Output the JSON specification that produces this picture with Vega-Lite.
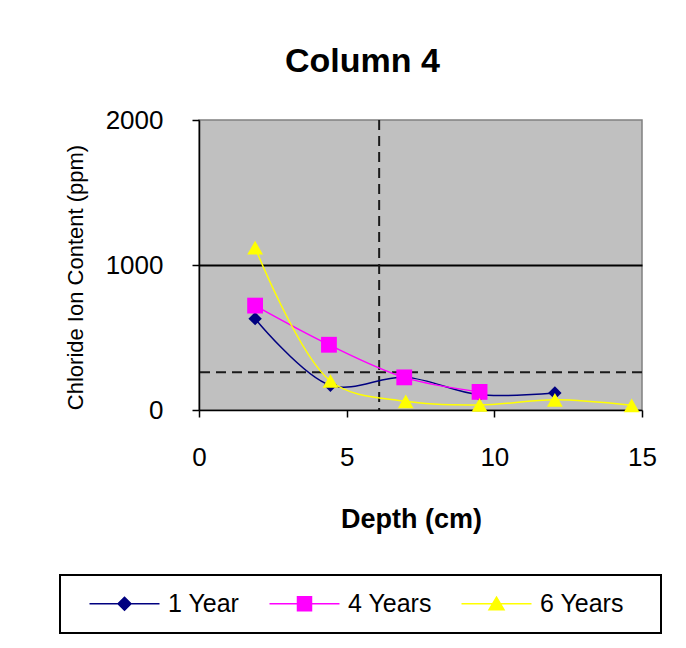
{
  "$schema": "https://vega.github.io/schema/vega-lite/v6.json",
  "width": 443,
  "height": 290,
  "autosize": {"type": "none"},
  "padding": {"left": 199, "top": 120, "right": 44, "bottom": 238},
  "background": "white",
  "config": {
    "font": "Liberation Sans",
    "view": {"fill": "#C0C0C0", "stroke": "#808080", "strokeWidth": 1.5}
  },
  "title": {
    "text": "Column 4",
    "fontSize": 34,
    "fontWeight": "bold",
    "color": "black",
    "anchor": "middle",
    "baseline": "alphabetic",
    "dx": -58,
    "offset": 1
  },
  "data": {
    "values": [
      {"series": "1 Year", "depth": 1.9, "chloride": 630},
      {"series": "1 Year", "depth": 4.45, "chloride": 170},
      {"series": "1 Year", "depth": 7.0, "chloride": 225},
      {"series": "1 Year", "depth": 9.5, "chloride": 105},
      {"series": "1 Year", "depth": 12.05, "chloride": 118},
      {"series": "4 Years", "depth": 1.9, "chloride": 720},
      {"series": "4 Years", "depth": 4.4, "chloride": 450},
      {"series": "4 Years", "depth": 6.95, "chloride": 225},
      {"series": "4 Years", "depth": 9.5, "chloride": 125},
      {"series": "6 Years", "depth": 1.9, "chloride": 1120},
      {"series": "6 Years", "depth": 4.45, "chloride": 200},
      {"series": "6 Years", "depth": 7.0, "chloride": 60},
      {"series": "6 Years", "depth": 9.5, "chloride": 35},
      {"series": "6 Years", "depth": 12.05, "chloride": 70},
      {"series": "6 Years", "depth": 14.65, "chloride": 32}
    ]
  },
  "layer": [
    {
      "data": {"values": [{}]},
      "mark": {"type": "rule", "strokeDash": [10, 6], "strokeWidth": 2, "color": "#1a1a1a"},
      "encoding": {"x": {"datum": 6.1, "type": "quantitative"}}
    },
    {
      "data": {"values": [{}]},
      "mark": {"type": "rule", "strokeDash": [10, 6], "strokeWidth": 2, "color": "#1a1a1a"},
      "encoding": {"y": {"datum": 260, "type": "quantitative"}}
    },
    {
      "mark": {"type": "line", "interpolate": "catmull-rom", "strokeWidth": 1.5},
      "encoding": {
        "x": {
          "field": "depth",
          "type": "quantitative",
          "scale": {"domain": [0, 15], "nice": false, "zero": false},
          "axis": {
            "title": "Depth (cm)",
            "values": [0, 5, 10, 15],
            "grid": false,
            "domainColor": "black",
            "domainWidth": 1.5,
            "tickColor": "black",
            "tickWidth": 1.5,
            "tickSize": 7,
            "labelFontSize": 26,
            "labelColor": "black",
            "labelPadding": 27,
            "labelFlush": false,
            "titleFontSize": 27,
            "titleFontWeight": "bold",
            "titleColor": "black",
            "titleX": 212,
            "titleY": 117,
            "titleAlign": "center",
            "titleBaseline": "alphabetic"
          }
        },
        "y": {
          "field": "chloride",
          "type": "quantitative",
          "scale": {"domain": [0, 2000], "nice": false},
          "axis": {
            "title": "Chloride Ion Content (ppm)",
            "values": [0, 1000, 2000],
            "format": "d",
            "grid": true,
            "gridColor": {"condition": {"test": "datum.value === 1000", "value": "black"}, "value": "transparent"},
            "gridWidth": 2,
            "domainColor": "black",
            "domainWidth": 1.5,
            "tickColor": "black",
            "tickWidth": 1.5,
            "tickSize": 7,
            "labelFontSize": 26,
            "labelColor": "black",
            "labelPadding": 29,
            "labelFlush": false,
            "titleFontSize": 22,
            "titleFontWeight": "normal",
            "titleColor": "black",
            "titleAngle": -90,
            "titleX": -124,
            "titleY": 157,
            "titleAlign": "center",
            "titleBaseline": "middle"
          }
        },
        "color": {
          "field": "series",
          "type": "nominal",
          "scale": {"domain": ["1 Year", "4 Years", "6 Years"], "range": ["#000080", "#FF00FF", "#FFFF00"]}
        },
        "detail": {"field": "series"}
      }
    },
    {
      "transform": [{"filter": "datum.series === '1 Year'"}],
      "mark": {"type": "point", "filled": true, "opacity": 1, "shape": "diamond", "size": 180},
      "encoding": {
        "x": {"field": "depth", "type": "quantitative"},
        "y": {"field": "chloride", "type": "quantitative"},
        "color": {"field": "series", "type": "nominal"}
      }
    },
    {
      "transform": [{"filter": "datum.series === '4 Years'"}],
      "mark": {"type": "point", "filled": true, "opacity": 1, "shape": "square", "size": 250},
      "encoding": {
        "x": {"field": "depth", "type": "quantitative"},
        "y": {"field": "chloride", "type": "quantitative"},
        "color": {"field": "series", "type": "nominal"}
      }
    },
    {
      "transform": [{"filter": "datum.series === '6 Years'"}],
      "mark": {"type": "point", "filled": true, "opacity": 1, "shape": "triangle-up", "size": 250},
      "encoding": {
        "x": {"field": "depth", "type": "quantitative"},
        "y": {"field": "chloride", "type": "quantitative"},
        "color": {"field": "series", "type": "nominal"}
      }
    },
    {
      "mark": {"type": "point", "filled": true, "opacity": 0, "strokeWidth": 1.5},
      "encoding": {
        "x": {"field": "depth", "type": "quantitative"},
        "y": {"field": "chloride", "type": "quantitative"},
        "shape": {
          "field": "series",
          "type": "nominal",
          "scale": {
            "domain": ["1 Year", "4 Years", "6 Years"],
            "range": [
              "M-1.1,0M0.1,0H7.1M3.6,-0.65L4.25,0L3.6,0.65L2.95,0Z",
              "M-1.1,0M0.1,0H7.1M2.9,-0.7H4.3V0.7H2.9Z",
              "M-1.1,0M0.1,0H7.1M3.6,-0.65L4.35,0.6H2.85ZM18.1,0"
            ]
          }
        },
        "color": {
          "field": "series",
          "type": "nominal",
          "legend": {
            "orient": "none",
            "legendX": -139,
            "legendY": 455,
            "direction": "horizontal",
            "columns": 3,
            "title": null,
            "strokeColor": "black",
            "fillColor": "white",
            "padding": 16,
            "columnPadding": 14,
            "labelFontSize": 25,
            "labelColor": "black",
            "labelOffset": 67,
            "symbolSize": 400,
            "symbolOpacity": 1,
            "symbolStrokeWidth": 1.5,
            "encoding": {
              "legend": {"strokeWidth": {"value": 2}},
              "symbols": {
                "stroke": {"value": {"signal": "scale('color', datum.value)"}},
                "strokeWidth": {"value": 1.5}
              }
            }
          }
        }
      }
    }
  ]
}
